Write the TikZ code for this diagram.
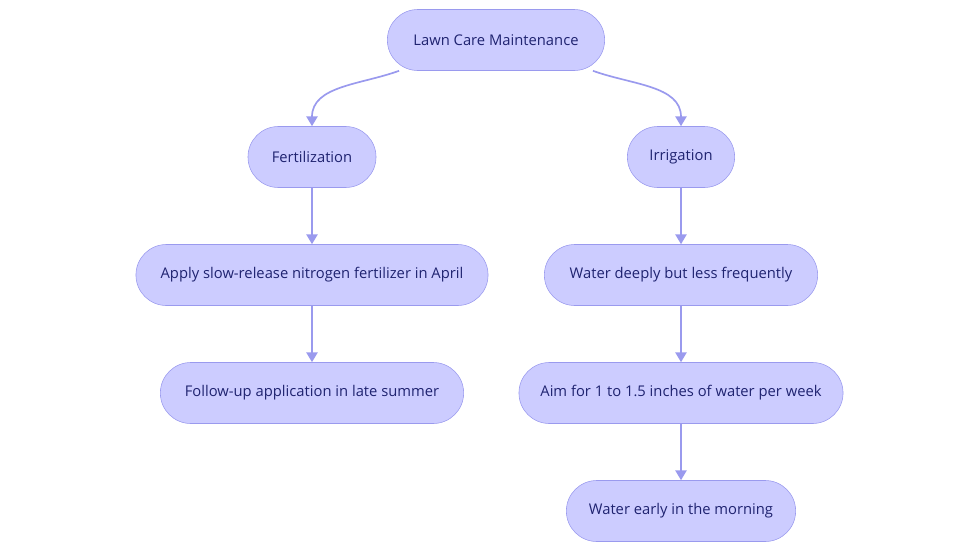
\documentclass[tikz,border=0pt]{standalone}
\usepackage{fontspec}
\setmainfont{Open Sans}
\usetikzlibrary{arrows.meta, positioning}
\definecolor{boxfill}{HTML}{CCCCFF}
\definecolor{boxline}{HTML}{9A9AEE}
\definecolor{boxtext}{HTML}{1F2370}
\tikzset{lawnbox/.style={rectangle, rounded corners=0.76cm, draw=boxline, fill=boxfill, text=boxtext,
  font=\fontsize{10.5}{12}\selectfont, minimum height=1.525cm, inner xsep=0pt},
  flow/.style={draw=boxline, line width=1.2pt, -{Triangle[length=7pt,width=8pt]}}}
\begin{document}
\begin{tikzpicture}[x=0.025cm, y=-0.025cm]
  \useasboundingbox (0,0) rectangle (980,553);
  \node (lawn) [lawnbox, minimum width=5.43cm] at (496,40) {Lawn Care Maintenance};
  \node (fert) [lawnbox, minimum width=3.2cm] at (312,157) {Fertilization};
  \node (irri) [lawnbox, minimum width=2.68cm] at (681,157) {Irrigation};
  \node (apply) [lawnbox, minimum width=8.8cm] at (312,275) {Apply slow-release nitrogen fertilizer in April};
  \node (follow) [lawnbox, minimum width=7.58cm] at (312,393) {Follow-up application in late summer};
  \node (deep) [lawnbox, minimum width=6.83cm] at (681,275) {Water deeply but less frequently};
  \node (aim) [lawnbox, minimum width=8.1cm] at (681,393) {Aim for 1 to 1.5 inches of water per week};
  \node (early) [lawnbox, minimum width=5.73cm] at (681,511) {Water early in the morning};

  \draw[flow] ([xshift=0.3cm]lawn.south west) to[out=200, in=90] (fert.north);
  \draw[flow] ([xshift=-0.3cm]lawn.south east) to[out=-20, in=90] (irri.north);
  \draw[flow] (fert) -- (apply);
  \draw[flow] (apply) -- (follow);
  \draw[flow] (irri) -- (deep);
  \draw[flow] (deep) -- (aim);
  \draw[flow] (aim) -- (early);
\end{tikzpicture}
\end{document}
